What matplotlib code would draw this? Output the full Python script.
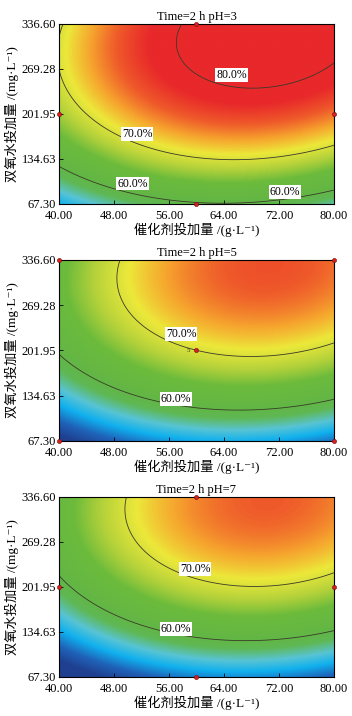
import numpy as np
import matplotlib
matplotlib.use('Agg')
import matplotlib.pyplot as plt
from matplotlib.colors import LinearSegmentedColormap, Normalize

plt.rcParams['font.family'] = ['Liberation Serif', 'Noto Sans CJK SC', 'DejaVu Serif']

# factor ranges and ticks
cat_range = [40.0, 80.0]
h2o2_range = [67.30, 336.60]
ph_values = [3, 5, 7]
x_ticks = [40.00, 48.00, 56.00, 64.00, 72.00, 80.00]
y_ticks = [67.30, 134.63, 201.95, 269.28, 336.60]

# contour points: (catalyst g/L, H2O2 mg/L)
ph3_80 = [(57.6, 336.6), (57.1, 312.7), (59.1, 267.8), (63.9, 247.9), (68.2, 240.4),
          (72.8, 247.9), (80.0, 272.8)]
ph3_70 = [(40.9, 336.6), (40.4, 242.8), (43.3, 207.9), (46.7, 183.0), (49.1, 165.6),
          (54.0, 150.6), (60.0, 135.7), (63.7, 132.1), (67.1, 133.1), (74.3, 143.2),
          (80.0, 156.6)]
ph3_60 = [(40.0, 118.2), (44.3, 108.2), (49.1, 90.8), (54.0, 78.2), (57.8, 70.8),
          (58.8, 67.3), (66.5, 67.3), (74.3, 77.3), (80.0, 88.3)]
ph5_70 = [(48.9, 336.6), (48.5, 309.3), (48.9, 279.6), (50.6, 254.8), (54.0, 229.9),
          (58.8, 205.2), (63.7, 194.6), (67.1, 190.6), (74.3, 199.5), (80.0, 211.9)]
ph5_60 = [(40.0, 191.2), (44.3, 165.3), (49.1, 145.5), (54.0, 130.6), (60.0, 113.2),
          (67.1, 110.8), (74.3, 120.7), (80.0, 130.6)]
ph7_70 = [(49.85, 336.6), (49.75, 314.2), (50.3, 284.2), (52.0, 259.3), (55.4, 239.4),
          (60.0, 212.5), (64.6, 203.5), (67.1, 201.5), (74.3, 206.9), (80.0, 221.9)]
ph7_60 = [(40.0, 212.0), (44.3, 182.1), (49.1, 159.6), (54.0, 144.7), (60.0, 122.2),
          (67.1, 118.6), (74.3, 127.1), (80.0, 139.6)]

traces = {3: [(80, ph3_80), (70, ph3_70), (60, ph3_60)],
          5: [(70, ph5_70), (60, ph5_60)],
          7: [(70, ph7_70), (60, ph7_60)]}

# Box-Behnken design points seen on each slice
design_pts = {
    3: [(60, 336.6), (60, 67.3), (40, 201.95), (80, 201.95)],
    5: [(40, 336.6), (80, 336.6), (40, 67.3), (80, 67.3), (60, 201.95)],
    7: [(60, 336.6), (60, 67.3), (40, 201.95), (80, 201.95)],
}

# contour label positions
label_pos = {
    3: [('80.0%', 65.1, 260.0), ('70.0%', 51.4, 172.0), ('60.0%', 50.7, 97.7), ('60.0%', 72.9, 85.3)],
    5: [('70.0%', 57.8, 226.0), ('60.0%', 57.0, 129.8)],
    7: [('70.0%', 59.8, 228.4), ('60.0%', 57.0, 138.7)],
}

# colour scale (removal %, colour)
scale_vals = [45, 48.5, 52, 55, 58, 60, 65, 68, 71, 73.5, 76, 78.5]
scale_cols = ['#1f3f8f', '#1f62b8', '#10b0ee', '#58c4d4', '#5fb855', '#62b646',
              '#6cbb3c', '#b5d23a', '#ece83a', '#f6a62e', '#ef5a2a', '#e8282a']


def terms(x, y):
    a = (np.asarray(x, float) - 60.0) / 20.0
    b = (np.asarray(y, float) - 201.95) / 134.65
    return np.column_stack([np.ones_like(a), a, b, a * a, b * b, a * b])


# quadratic response surface for each pH slice, fitted to the traced contours
coefs = {}
for ph in ph_values:
    xs, ys, lv = [], [], []
    for level, pts in traces[ph]:
        for x, y in pts:
            xs.append(x); ys.append(y); lv.append(level)
    coefs[ph], *_ = np.linalg.lstsq(terms(xs, ys), np.array(lv, float), rcond=None)

vmin, vmax = scale_vals[0], scale_vals[-1]
cmap = LinearSegmentedColormap.from_list(
    'de', [((v - vmin) / (vmax - vmin), c) for v, c in zip(scale_vals, scale_cols)])
norm = Normalize(vmin=vmin, vmax=vmax, clip=True)

fig = plt.figure(figsize=(3.52, 7.16), dpi=100)
boxes = [[0.1676, 0.7151, 0.7812, 0.2514],
         [0.1676, 0.3841, 0.7812, 0.2528],
         [0.1676, 0.0545, 0.7812, 0.2514]]

gx = np.linspace(cat_range[0], cat_range[1], 300)
gy = np.linspace(h2o2_range[0], h2o2_range[1], 300)
GX, GY = np.meshgrid(gx, gy)

for box, ph in zip(boxes, ph_values):
    ax = fig.add_axes(box)
    Z = (terms(GX.ravel(), GY.ravel()) @ coefs[ph]).reshape(GX.shape)
    ax.imshow(Z, extent=[cat_range[0], cat_range[1], h2o2_range[0], h2o2_range[1]],
              origin='lower', aspect='auto', cmap=cmap, norm=norm, interpolation='bilinear')
    ax.contour(GX, GY, Z, levels=[60, 70, 80], colors='#3a3a2a', linewidths=0.6)
    for txt, lx, ly in label_pos[ph]:
        ax.text(lx, ly, txt, fontsize=8.5, ha='center', va='center',
                bbox=dict(facecolor='white', edgecolor='none', pad=0.6))
    dx = [p[0] for p in design_pts[ph]]
    dy = [p[1] for p in design_pts[ph]]
    ax.scatter(dx, dy, s=9, color='#d42020', edgecolors='#7a1010', linewidths=0.4,
               zorder=5, clip_on=False)
    if ph == 5:
        ax.text(59.0, 201.95, '5', fontsize=5, ha='right', va='center', color='#333333')
    ax.set_xlim(cat_range)
    ax.set_ylim(h2o2_range)
    ax.set_xticks(x_ticks)
    ax.set_xticklabels(['%.2f' % v for v in x_ticks])
    ax.set_yticks(y_ticks)
    ax.set_yticklabels(['%.2f' % v for v in y_ticks])
    ax.tick_params(direction='in', length=3, width=0.6, labelsize=9)
    ax.tick_params(axis='x', pad=4)
    ax.tick_params(axis='y', pad=2)
    for s in ax.spines.values():
        s.set_linewidth(0.8)
    ax.set_title('Time=2 h pH=%d' % ph, fontsize=9, pad=3)
    ax.set_xlabel('催化剂投加量 /(g·L⁻¹)', fontsize=9.5, labelpad=1)
    ax.set_ylabel('双氧水投加量 /(mg·L⁻¹)', fontsize=9.5, labelpad=2)

fig.savefig('out.png', dpi=100)
